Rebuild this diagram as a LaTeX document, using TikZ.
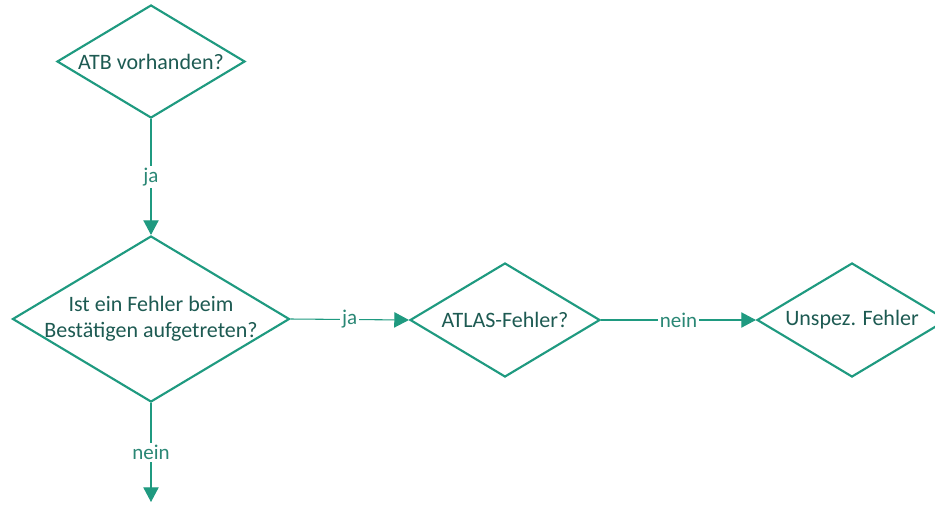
\documentclass[tikz,border=0pt]{standalone}
\usepackage{fontspec}
\setmainfont{Carlito}
\usetikzlibrary{arrows.meta,shapes.geometric}
\definecolor{lineteal}{HTML}{1F9A80}
\definecolor{textteal}{HTML}{1D5A52}
\definecolor{lblteal}{HTML}{2A8775}

\begin{document}
\begin{tikzpicture}[x=0.75pt, y=-0.75pt, >={Triangle[length=11pt,width=11.5pt]},
  query/.style={draw=lineteal, line width=1.6pt, diamond, aspect=1.67, inner sep=0pt, text=textteal, font=\fontsize{16.5}{19.5}\selectfont, align=center},
  link/.style={draw=lineteal, line width=0.8pt, ->},
  lbl/.style={midway, fill=white, inner sep=1.5pt, text=lblteal, font=\fontsize{15.75}{19.5}\selectfont}]
\clip (0,0) rectangle (935,504);
\node[query, minimum width=141pt, minimum height=84.75pt] (atb) at (151,61.5) {ATB vorhanden?};
\node[query, minimum width=207.75pt, minimum height=124.5pt, inner sep=-4pt] (err) at (151,319) {Ist ein Fehler beim\\Bestätigen aufgetreten?};
\node[query, minimum width=142.5pt, minimum height=85.5pt] (atlas) at (505,320) {ATLAS-Fehler?};
\node[query, minimum width=142.5pt, minimum height=85.5pt] (unspez) at (852,320) {Unspez. Fehler};
\coordinate (out) at (151,502);
\draw[link] (atb.south) -- node[lbl] {ja} (err.north);
\draw[link] (err.east) -- node[lbl] {ja} (atlas.west);
\draw[link] (atlas.east) -- node[lbl] {nein} (unspez.west);
\draw[link] (err.south) -- node[lbl] {nein} (out);
\end{tikzpicture}
\end{document}
